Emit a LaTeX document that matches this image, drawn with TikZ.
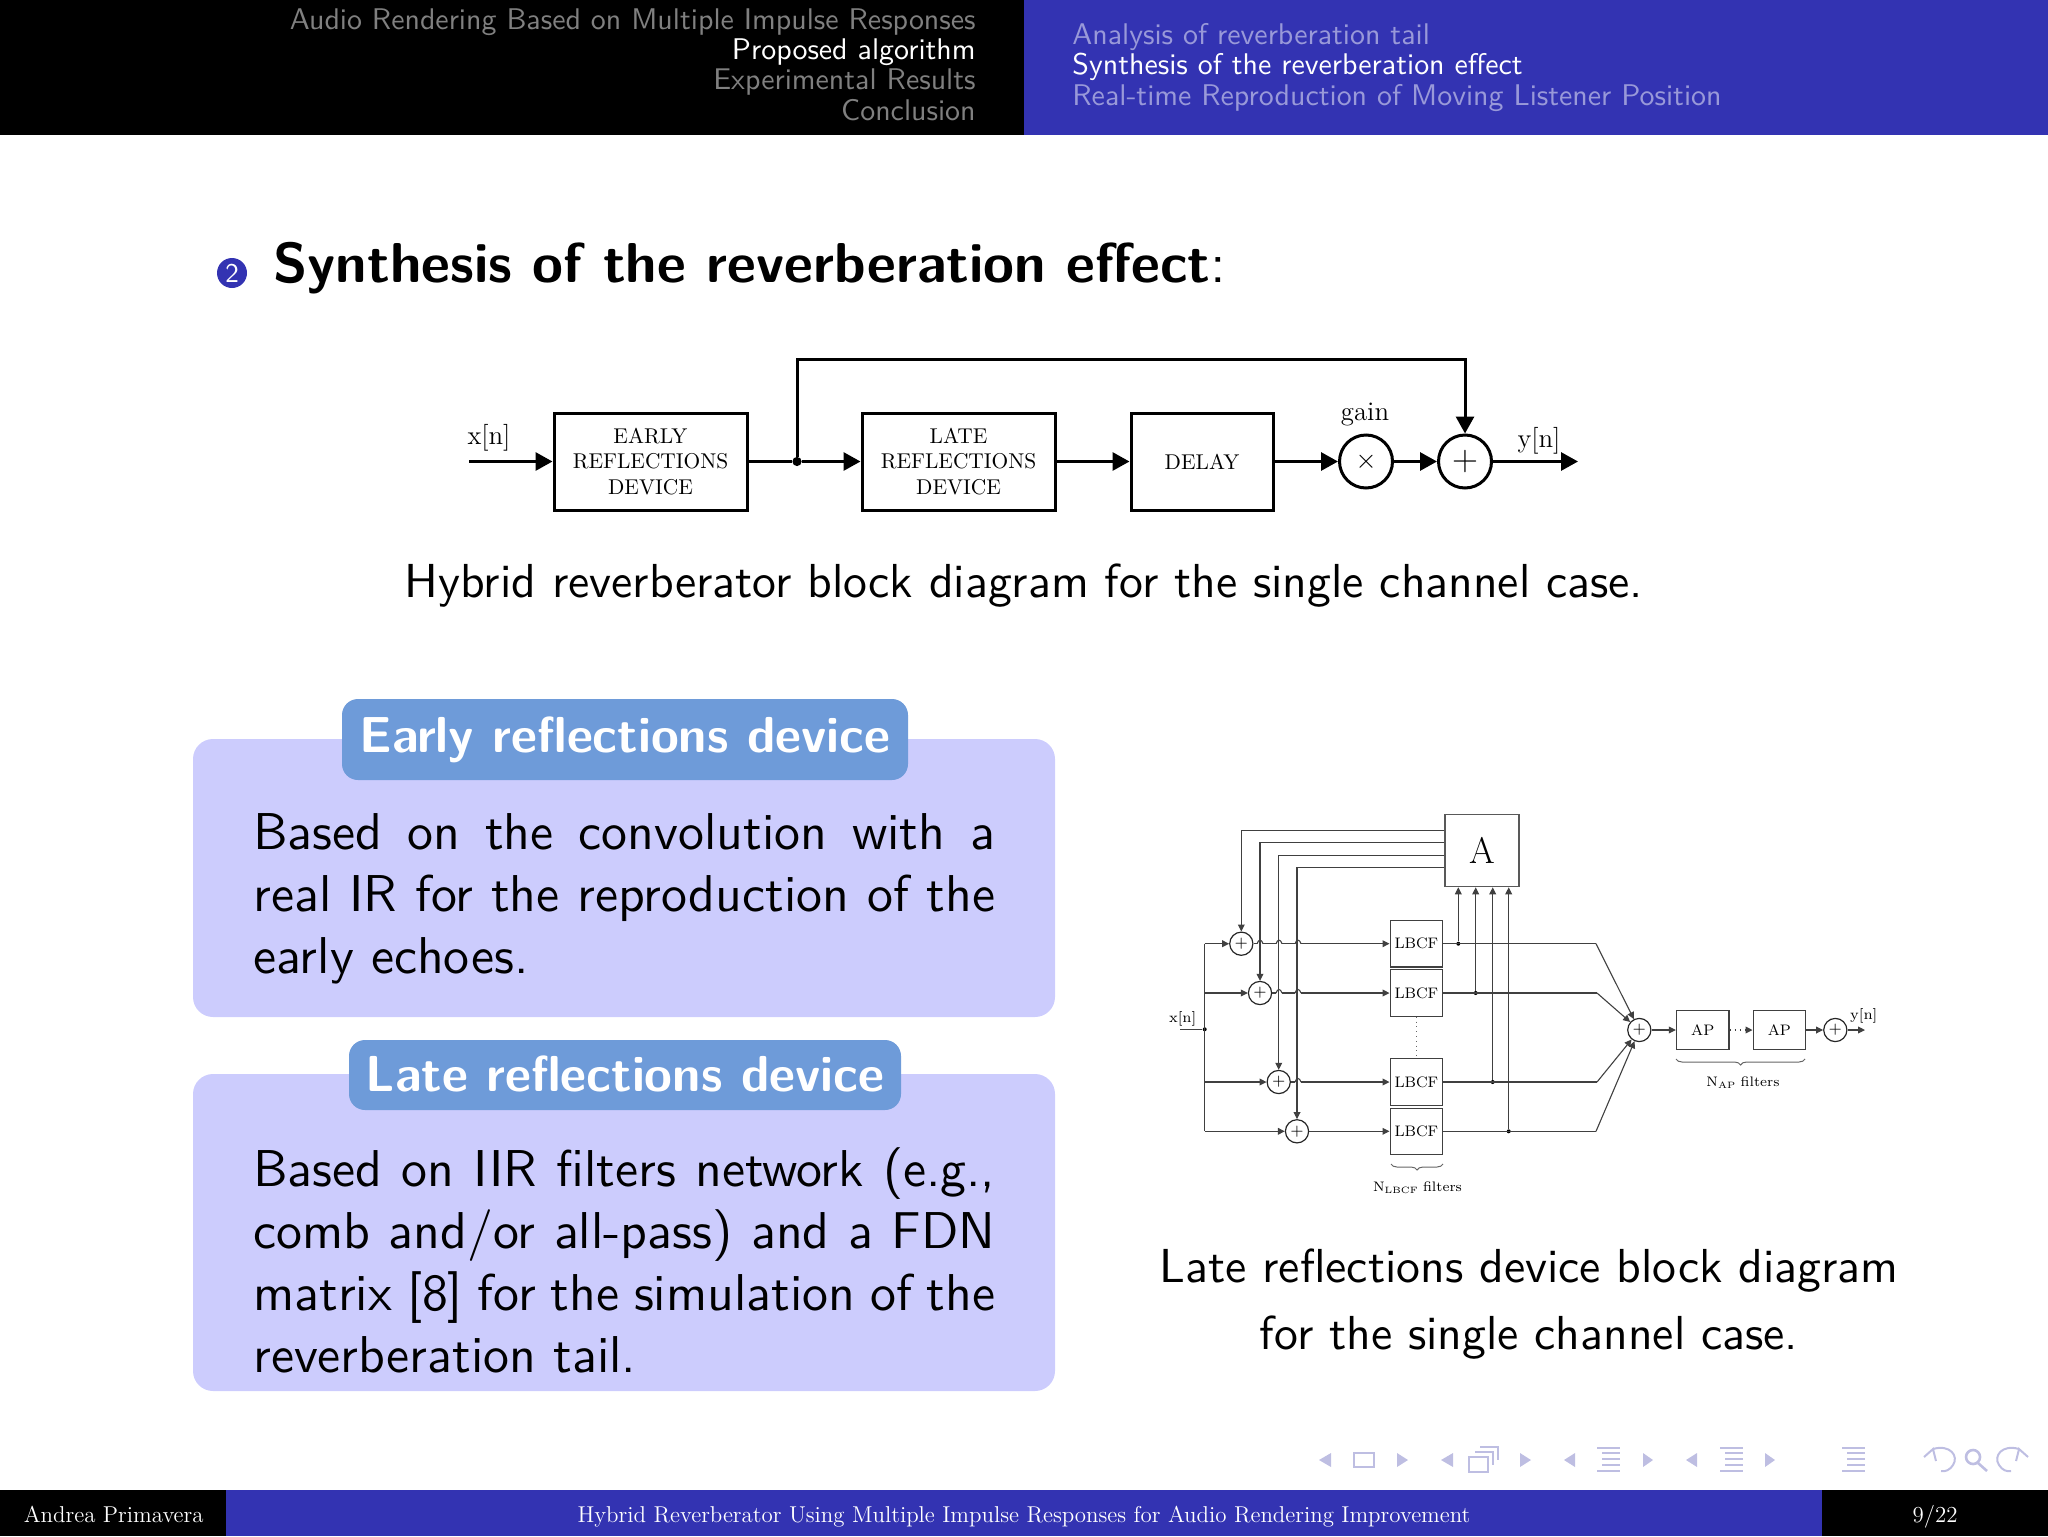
\documentclass[tikz,border=0pt]{standalone}
\usepackage{fix-cm}
\usetikzlibrary{arrows.meta,decorations.pathreplacing}
\DeclareFontFamily{TU}{slidess}{}
\DeclareFontShape{TU}{slidess}{m}{n}{<->\UnicodeFontFile{lmsans10-regular}{\UnicodeFontTeXLigatures}}{}
\DeclareFontShape{TU}{slidess}{b}{n}{<->\UnicodeFontFile{lmsans10-bold}{\UnicodeFontTeXLigatures}}{}
\newcommand{\slidefont}[2]{\fontfamily{slidess}\fontsize{#1}{#2}\selectfont}
\newcommand{\romanfont}[1]{\rmfamily\fontsize{#1}{#1}\selectfont}
\definecolor{headblue}{RGB}{51,51,178}
\definecolor{headpale}{RGB}{153,153,217}
\definecolor{blockbody}{RGB}{204,204,253}
\definecolor{blocktitle}{RGB}{110,155,217}
\definecolor{navpale}{RGB}{190,190,226}
\tikzset{
  sigbig/.style={line width=1.5pt,-{Triangle[length=8.5pt,width=9pt]}},
  linebig/.style={line width=1.5pt},
  boxbig/.style={draw,line width=1.5pt,align=center,inner sep=0pt,font=\rmfamily\fontsize{10.7}{12.9}\selectfont},
  sumbig/.style={draw,circle,line width=1.5pt,minimum size=26.5pt,inner sep=0pt},
  dotbig/.style={fill,circle,minimum size=4.6pt,inner sep=0pt},
  sigsmall/.style={line width=.55pt,black!75,-{Triangle[length=3.5pt,width=3.4pt]}},
  linesmall/.style={line width=.55pt,black!75},
  boxsmall/.style={draw=black!75,line width=.6pt,minimum width=26.3pt,minimum height=23.2pt,inner sep=0pt,font=\romanfont{7.6}},
  sumsmall/.style={draw=black!85,circle,line width=.6pt,minimum size=11.6pt,inner sep=0pt},
  dotsmall/.style={fill,circle,minimum size=2pt,inner sep=0pt},
  bracesmall/.style={draw=black!60,line width=.5pt,decorate,decoration={brace,mirror,amplitude=3pt}},
  blockback/.style={fill=blockbody,rounded corners=10pt},
  blockhead/.style={fill=blocktitle,rounded corners=8pt},
  blocktext/.style={anchor=base west,text width=371pt,align=justify,inner sep=0pt,font=\slidefont{25.9}{31}},
  navmark/.style={fill=navpale},
  navline/.style={draw=navpale,line width=1.3pt}
}
\begin{document}
\begin{tikzpicture}[x=.5pt,y=-.5pt]
\useasboundingbox (0,0) rectangle (2048,1536);
\fill (0,0) rectangle (1024,135);
\fill[headblue] (1024,0) rectangle (2048,135);
\fill (0,1490) rectangle (226,1536);
\fill[headblue] (226,1490) rectangle (1822,1536);
\fill (1822,1490) rectangle (2048,1536);

\node[anchor=base east,inner sep=0pt,text=black!50!white,font=\slidefont{14.95}{18}] (sec1) at (976,29.5) {Audio Rendering Based on Multiple Impulse Responses};
\node[anchor=base east,inner sep=0pt,text=white,font=\slidefont{14.95}{18}] (sec2) at (976,59.5) {Proposed algorithm};
\node[anchor=base east,inner sep=0pt,text=black!50!white,font=\slidefont{14.95}{18}] (sec3) at (976,89.5) {Experimental Results};
\node[anchor=base east,inner sep=0pt,text=black!50!white,font=\slidefont{14.95}{18}] (sec4) at (976,120) {Conclusion};
\node[anchor=base west,inner sep=0pt,text=headpale,font=\slidefont{14.95}{18}] (sub1) at (1072,45) {Analysis of reverberation tail};
\node[anchor=base west,inner sep=0pt,text=white,font=\slidefont{14.95}{18}] (sub2) at (1072,75) {Synthesis of the reverberation effect};
\node[anchor=base west,inner sep=0pt,text=headpale,font=\slidefont{14.95}{18}] (sub3) at (1072,105) {Real-time Reproduction of Moving Listener Position};

\node[fill=headblue,circle,minimum size=15pt,inner sep=0pt,text=white,font=\slidefont{13.5}{14}] (ball) at (232,273) {2};
\node[anchor=base west,inner sep=0pt,font=\slidefont{28.1}{32}] (head) at (273,282) {\fontseries{b}\selectfont Synthesis of the reverberation effect\fontseries{m}\selectfont:};

\node[boxbig,minimum width=96.5pt,minimum height=48.5pt] (early) at (650.5,461.5) {EARLY\\REFLECTIONS\\DEVICE};
\node[boxbig,minimum width=96.5pt,minimum height=48.5pt] (late) at (958.5,461.5) {LATE\\REFLECTIONS\\DEVICE};
\node[boxbig,minimum width=71pt,minimum height=48.5pt] (delay) at (1202,461.5) {DELAY};
\node[sumbig,font=\fontsize{13.5}{13.5}\selectfont] (gain) at (1366,461.5) {$\times$};
\node[sumbig,font=\fontsize{18}{18}\selectfont] (plus) at (1465,461.5) {$+$};
\node[dotbig] (tap) at (797,461.5) {};
\coordinate (xin) at (469,461.5);
\coordinate (yout) at (1578,461.5);
\coordinate (over) at (797,359);
\node[anchor=base,inner sep=0pt,font=\romanfont{13.4}] (xlabel) at (489,444.5) {x[n]};
\node[anchor=base,inner sep=0pt,font=\romanfont{13.4}] (gainlabel) at (1365,420) {gain};
\node[anchor=base,inner sep=0pt,font=\romanfont{13.4}] (ylabel) at (1539,447.5) {y[n]};
\draw[sigbig] (xin)--(early);
\draw[linebig] (early)--(tap);
\draw[sigbig] (tap)--(late);
\draw[sigbig] (late)--(delay);
\draw[sigbig] (delay)--(gain);
\draw[sigbig] (gain)--(plus);
\draw[sigbig] (plus)--(yout);
\draw[sigbig] (tap)--(over)-|(plus);

\node[anchor=base,inner sep=0pt,font=\slidefont{23.85}{31}] (cap1) at (1024,597) {Hybrid reverberator block diagram for the single channel case.};

\fill[blockback] (193,739) rectangle (1055,1017);
\fill[blockhead] (342,699) rectangle (908,780);
\node[anchor=base,inner sep=0pt,text=white,font=\slidefont{25.3}{28}] (early head) at (625,752) {\fontseries{b}\selectfont Early reflections device};
\node[blocktext] (early text) at (253,849) {Based on the convolution with a\linebreak real IR for the reproduction of the\linebreak early echoes.};
\fill[blockback] (193,1074) rectangle (1055,1391);
\fill[blockhead] (349,1040) rectangle (901,1110);
\node[anchor=base,inner sep=0pt,text=white,font=\slidefont{25.3}{28}] (late head) at (625,1091) {\fontseries{b}\selectfont Late reflections device};
\node[blocktext] (late text) at (253,1186) {Based on IIR filters network (e.g.,\linebreak comb and/or all-pass) and a FDN\linebreak matrix [8] for the simulation of the\linebreak reverberation tail.};

\node[draw=black!65,line width=.6pt,minimum width=37pt,minimum height=36pt,inner sep=0pt,font=\romanfont{18.5}] (matA) at (1482,850.7) {A};
\coordinate (a1) at (matA.west |- 0,830.3);
\coordinate (a2) at (matA.west |- 0,842.7);
\coordinate (a3) at (matA.west |- 0,855.3);
\coordinate (a4) at (matA.west |- 0,867.7);
\node[sumsmall,font=\fontsize{7.6}{7.6}\selectfont] (s1) at (1241.3,943.7) {$+$};
\node[sumsmall,font=\fontsize{7.6}{7.6}\selectfont] (s2) at (1260,993) {$+$};
\node[sumsmall,font=\fontsize{7.6}{7.6}\selectfont] (s3) at (1278.7,1082) {$+$};
\node[sumsmall,font=\fontsize{7.6}{7.6}\selectfont] (s4) at (1297,1131.3) {$+$};
\node[boxsmall] (lb1) at (1416.4,943.7) {LBCF};
\node[boxsmall] (lb2) at (1416.4,993) {LBCF};
\node[boxsmall] (lb3) at (1416.4,1082) {LBCF};
\node[boxsmall] (lb4) at (1416.4,1131.3) {LBCF};
\node[sumsmall,font=\fontsize{7.6}{7.6}\selectfont] (mix) at (1639.3,1030) {$+$};
\node[boxsmall,minimum height=19.7pt] (ap1) at (1702.7,1030) {AP};
\node[boxsmall,minimum height=19.7pt] (ap2) at (1779.4,1030) {AP};
\node[sumsmall,font=\fontsize{7.6}{7.6}\selectfont] (s5) at (1835.3,1030) {$+$};
\node[dotsmall] (xtap) at (1204.7,1029.3) {};
\coordinate (xstart) at (1180,1029.3);
\coordinate (c1) at (1204.7,943.7);
\coordinate (c2) at (1204.7,993);
\coordinate (c3) at (1204.7,1082);
\coordinate (c4) at (1204.7,1131.3);
\coordinate (b1) at (1596,943.7);
\coordinate (b2) at (1597,993);
\coordinate (b3) at (1597,1082);
\coordinate (b4) at (1596,1131.3);
\coordinate (yend) at (1865,1030);
\node[dotsmall] (t1) at (1458.3,943.7) {};
\node[dotsmall] (t2) at (1475.7,993) {};
\node[dotsmall] (t3) at (1492.7,1082) {};
\node[dotsmall] (t4) at (1508.7,1131.3) {};
\node[anchor=base,inner sep=0pt,font=\romanfont{7.3}] (xlabel2) at (1182.7,1022.3) {x[n]};
\node[anchor=base,inner sep=0pt,font=\romanfont{7.3}] (ylabel2) at (1863.7,1019.3) {y[n]};
\node[anchor=base,inner sep=0pt,font=\romanfont{6.9}] (nlbcf) at (1417.5,1191.7) {N\raisebox{-.8pt}{\fontsize{4.6}{5}\selectfont LBCF} filters};
\node[anchor=base,inner sep=0pt,font=\romanfont{6.9}] (nap) at (1743,1086.7) {N\raisebox{-.8pt}{\fontsize{4.6}{5}\selectfont AP} filters};

\draw[linesmall] (xstart)--(xtap);
\draw[linesmall] (c1)--(c4);
\draw[sigsmall] (c1)--(s1);
\draw[sigsmall] (c2)--(s2);
\draw[sigsmall] (c3)--(s3);
\draw[sigsmall] (c4)--(s4);
\draw[sigsmall] (s1)--(lb1);
\draw[sigsmall] (s2)--(lb2);
\draw[sigsmall] (s3)--(lb3);
\draw[sigsmall] (s4)--(lb4);
\fill[white] (1257,942) rectangle (1263,945.4);
\fill[white] (1276,942) rectangle (1282,945.4);
\fill[white] (1295,942) rectangle (1301,945.4);
\fill[white] (1276,991.3) rectangle (1282,994.7);
\fill[white] (1295,991.3) rectangle (1301,994.7);
\fill[white] (1295,1080.3) rectangle (1301,1083.7);
\draw[linesmall] (1257,943.7) .. controls (1258.5,939) and (1261.5,939) .. (1263,943.7);
\draw[linesmall] (1276,943.7) .. controls (1277.5,939) and (1280.5,939) .. (1282,943.7);
\draw[linesmall] (1295,943.7) .. controls (1296.5,939) and (1299.5,939) .. (1301,943.7);
\draw[linesmall] (1276,993) .. controls (1277.5,988.3) and (1280.5,988.3) .. (1282,993);
\draw[linesmall] (1295,993) .. controls (1296.5,988.3) and (1299.5,988.3) .. (1301,993);
\draw[linesmall] (1295,1082) .. controls (1296.5,1077.3) and (1299.5,1077.3) .. (1301,1082);
\draw[sigsmall] (a1)-|(s1);
\draw[sigsmall] (a2)-|(s2);
\draw[sigsmall] (a3)-|(s3);
\draw[sigsmall] (a4)-|(s4);
\draw[linesmall] (lb1)--(b1);
\draw[linesmall] (lb2)--(b2);
\draw[linesmall] (lb3)--(b3);
\draw[linesmall] (lb4)--(b4);
\draw[sigsmall] (b1)--(mix);
\draw[sigsmall] (b2)--(mix);
\draw[sigsmall] (b3)--(mix);
\draw[sigsmall] (b4)--(mix);
\draw[sigsmall] (t1)--(t1 |- matA.south);
\draw[sigsmall] (t2)--(t2 |- matA.south);
\draw[sigsmall] (t3)--(t3 |- matA.south);
\draw[sigsmall] (t4)--(t4 |- matA.south);
\draw[sigsmall] (mix)--(ap1);
\draw[sigsmall,dotted] (ap1)--(ap2);
\draw[sigsmall] (ap2)--(s5);
\draw[sigsmall] (s5)--(yend);
\draw[black!60,line width=.4pt,dotted] (lb2)--(lb3);
\draw[bracesmall] (1391,1164)--(1443,1164);
\draw[bracesmall] (1676,1059)--(1805,1059);

\node[anchor=base,inner sep=0pt,font=\slidefont{23.85}{31}] (cap2) at (1529,1282) {Late reflections device block diagram};
\node[anchor=base,inner sep=0pt,font=\slidefont{23.85}{31}] (cap3) at (1529,1349) {for the single channel case.};

\node[anchor=base west,inner sep=0pt,text=white,font=\romanfont{11.45}] (foot1) at (23.5,1522) {Andrea Primavera};
\node[anchor=base,inner sep=0pt,text=white,font=\romanfont{11.45}] (foot2) at (1024,1522) {Hybrid Reverberator Using Multiple Impulse Responses for Audio Rendering Improvement};
\node[anchor=base,inner sep=0pt,text=white,font=\romanfont{11.45}] (foot3) at (1935,1522) {9/22};

\fill[navmark] (1331,1453)--(1319,1460)--(1331,1467)--cycle;
\draw[navline] (1354,1453) rectangle (1374,1467);
\fill[navmark] (1397,1453)--(1408,1460)--(1397,1467)--cycle;
\fill[navmark] (1453,1453)--(1441,1460)--(1453,1467)--cycle;
\draw[navline] (1480,1447)--(1498,1447)--(1498,1460);
\draw[navline] (1475,1452)--(1493,1452)--(1493,1465);
\draw[navline,fill=white] (1469,1457) rectangle (1488,1472);
\fill[navmark] (1520,1453)--(1531,1460)--(1520,1467)--cycle;
\fill[navmark] (1575,1453)--(1564,1460)--(1575,1467)--cycle;
\draw[navline] (1597,1448)--(1620,1448) (1602,1453)--(1620,1453) (1602,1459)--(1620,1459) (1602,1465)--(1620,1465) (1597,1471)--(1620,1471);
\fill[navmark] (1643,1453)--(1653,1460)--(1643,1467)--cycle;
\fill[navmark] (1697,1453)--(1686,1460)--(1697,1467)--cycle;
\draw[navline] (1720,1448)--(1743,1448) (1725,1453)--(1743,1453) (1725,1459)--(1743,1459) (1725,1465)--(1743,1465) (1720,1471)--(1743,1471);
\fill[navmark] (1765,1453)--(1775,1460)--(1765,1467)--cycle;
\draw[navline] (1842,1448)--(1865,1448) (1847,1453)--(1865,1453) (1847,1459)--(1865,1459) (1847,1465)--(1865,1465) (1842,1471)--(1865,1471);
\draw[navline,line width=1pt] (1933,1449) .. controls (1950,1444) and (1959,1456) .. (1953,1465) .. controls (1950,1470) and (1945,1472) .. (1941,1471);
\draw[navline,line width=1pt] (1924,1457)--(1933,1449)--(1936,1461);
\draw[navline] (1973,1457) circle (7);
\draw[navline] (1978,1463)--(1987,1471);
\draw[navline,line width=1pt] (2019,1449) .. controls (2002,1444) and (1993,1456) .. (1999,1465) .. controls (2002,1470) and (2007,1472) .. (2011,1471);
\draw[navline,line width=1pt] (2028,1457)--(2019,1449)--(2016,1461);
\end{tikzpicture}
\end{document}
